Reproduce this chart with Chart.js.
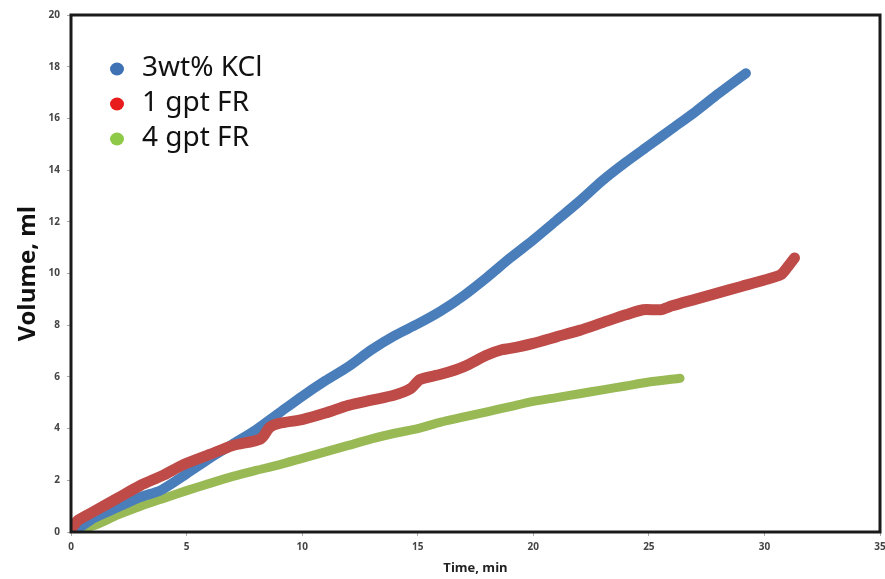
<!DOCTYPE html>
<html>
<head>
<meta charset="utf-8">
<script src="https://cdn.jsdelivr.net/npm/chart.js@4/dist/chart.umd.min.js"></script>
<style>
  html, body { margin: 0; padding: 0; background: #fff; }
  #wrap { width: 885px; height: 579px; }
</style>
</head>
<body>
<div id="wrap"><canvas id="grafico"></canvas></div>
<script>
// valores (tempo em min, volume em ml)
const kclTime = [0, 0.5, 1, 2, 3, 3.9, 5, 6, 7, 8, 9, 10, 11, 12, 13, 14, 15, 16, 17, 18, 19, 20, 21, 22, 23, 24, 25, 26, 27, 28, 29.2];
const kclVol  = [0, 0.25, 0.55, 0.95, 1.35, 1.62, 2.25, 2.85, 3.4, 3.95, 4.6, 5.25, 5.85, 6.4, 7.05, 7.6, 8.05, 8.55, 9.15, 9.85, 10.6, 11.3, 12.05, 12.8, 13.6, 14.3, 14.95, 15.6, 16.25, 16.95, 17.75];

const fr1Time = [0, 0.3, 1, 2, 3, 4, 4.85, 6, 7, 8.2, 8.6, 9, 10, 11, 12, 13, 14, 14.7, 15.1, 16, 17, 18, 18.6, 19, 20, 21, 22, 23, 24, 24.75, 25.5, 26, 27, 28, 29, 30, 30.7, 31.0, 31.3];
const fr1Vol  = [0.1, 0.45, 0.8, 1.3, 1.8, 2.2, 2.6, 3.0, 3.35, 3.6, 4.05, 4.2, 4.35, 4.6, 4.9, 5.1, 5.3, 5.55, 5.9, 6.1, 6.4, 6.85, 7.04, 7.1, 7.3, 7.55, 7.8, 8.1, 8.4, 8.6, 8.6, 8.75, 9.0, 9.25, 9.5, 9.75, 9.95, 10.25, 10.6];

const fr4Time = [0, 1, 2, 3, 4, 5, 6, 7, 8, 9, 10, 11, 12, 13, 14, 15, 16, 17, 18, 19, 20, 21, 22, 23, 24, 25, 26.35];
const fr4Vol  = [0.05, 0.25, 0.65, 1.0, 1.3, 1.6, 1.88, 2.15, 2.38, 2.6, 2.85, 3.1, 3.35, 3.6, 3.82, 4.0, 4.25, 4.45, 4.65, 4.85, 5.05, 5.2, 5.35, 5.5, 5.65, 5.8, 5.95];

const seriesNames = ['3wt% KCl', '1 gpt FR', '4 gpt FR'];
const lineColors = ['#4a7ebb', '#be4b48', '#98b954'];
const dotColors = ['#3f72b5', '#e81c1c', '#8fc948'];

const xTicks = [0, 5, 10, 15, 20, 25, 30, 35];
const yTicks = [0, 2, 4, 6, 8, 10, 12, 14, 16, 18, 20];

function pares(ts, vs) {
  return ts.map((t, i) => ({ x: t, y: vs[i] }));
}

// moldura preta em volta da área do gráfico
const moldura = {
  id: 'moldura',
  afterDatasetsDraw(chart) {
    const { ctx, chartArea: a } = chart;
    ctx.save();
    ctx.strokeStyle = '#1a1a1a';
    ctx.lineWidth = 3;
    ctx.strokeRect(a.left, a.top, a.right - a.left, a.bottom - a.top);
    ctx.restore();
  }
};

// legenda dentro do gráfico, no canto superior esquerdo
const legendaInterna = {
  id: 'legendaInterna',
  afterDraw(chart) {
    const ctx = chart.ctx;
    ctx.save();
    ctx.font = '28px "Noto Sans"';
    ctx.textBaseline = 'middle';
    chart.data.datasets.forEach((ds, i) => {
      const y = 68 + i * 35;
      ctx.fillStyle = dotColors[i];
      ctx.beginPath();
      ctx.ellipse(117, y + 1, 7, 6.5, 0, 0, Math.PI * 2);
      ctx.fill();
      ctx.fillStyle = '#111';
      ctx.fillText(ds.label, 142, y);
    });
    ctx.restore();
  }
};

const ctx = document.getElementById('grafico').getContext('2d');
new Chart(ctx, {
  type: 'line',
  data: {
    datasets: [
      { label: seriesNames[0], data: pares(kclTime, kclVol), borderColor: lineColors[0], borderWidth: 10, order: 1 },
      { label: seriesNames[1], data: pares(fr1Time, fr1Vol), borderColor: lineColors[1], borderWidth: 11, order: 0 },
      { label: seriesNames[2], data: pares(fr4Time, fr4Vol), borderColor: lineColors[2], borderWidth: 9, order: 2 }
    ]
  },
  options: {
    responsive: true,
    maintainAspectRatio: false,
    animation: false,
    layout: { padding: { top: 15, right: 5, left: 0, bottom: 0 } },
    elements: {
      point: { radius: 0 },
      line: { tension: 0.25, borderCapStyle: 'round', borderJoinStyle: 'round', fill: false }
    },
    scales: {
      x: {
        type: 'linear',
        min: 0,
        max: 35,
        afterBuildTicks: s => { s.ticks = xTicks.map(v => ({ value: v })); },
        afterFit: s => { s.height = 47; s.paddingRight = 0; s.paddingLeft = 0; },
        grid: { drawOnChartArea: false, tickLength: 4, color: '#aaa' },
        border: { display: false },
        ticks: { padding: 5, color: '#444', font: { family: 'Open Sans', size: 10, weight: 'bold' } },
        title: {
          display: true,
          text: 'Time, min',
          color: '#222',
          padding: { top: 0, bottom: 3 },
          font: { family: 'Open Sans', size: 13, weight: 'bold' }
        }
      },
      y: {
        min: 0,
        max: 20,
        afterBuildTicks: s => { s.ticks = yTicks.map(v => ({ value: v })); },
        afterFit: s => { s.width = 71; },
        grid: { drawOnChartArea: false, tickLength: 4, color: '#aaa' },
        border: { display: false },
        ticks: { padding: 7, color: '#444', font: { family: 'Open Sans', size: 10, weight: 'bold' } },
        title: {
          display: true,
          text: 'Volume, ml',
          color: '#111',
          padding: { top: 14, bottom: 0 },
          font: { family: 'Open Sans', size: 24, weight: 'bold' }
        }
      }
    },
    plugins: {
      legend: { display: false },
      tooltip: { enabled: false }
    }
  },
  plugins: [moldura, legendaInterna]
});
</script>
</body>
</html>
